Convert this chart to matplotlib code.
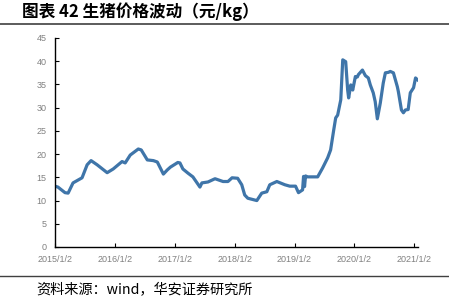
import matplotlib
matplotlib.use("Agg")
import matplotlib.pyplot as plt
import pandas as pd

plt.rcParams['font.family'] = ['Noto Sans CJK SC', 'DejaVu Sans']

dates = [
    "2015-01-02", "2015-01-20", "2015-03-04", "2015-03-23", "2015-04-22", "2015-06-16",
    "2015-07-17", "2015-08-10", "2015-09-16", "2015-11-16", "2015-12-23", "2016-02-15",
    "2016-03-05", "2016-04-05", "2016-05-24", "2016-06-11", "2016-07-18", "2016-08-24",
    "2016-09-17", "2016-10-24", "2016-11-17", "2016-12-06", "2017-01-20", "2017-02-02",
    "2017-02-20", "2017-03-23", "2017-04-22", "2017-06-04", "2017-06-16", "2017-07-23",
    "2017-09-04", "2017-10-23", "2017-11-22", "2017-12-17", "2018-01-20", "2018-02-14",
    "2018-03-04", "2018-03-23", "2018-05-17", "2018-06-16", "2018-07-17", "2018-08-04",
    "2018-09-16", "2018-11-04", "2018-12-04", "2019-01-08", "2019-01-26", "2019-02-20",
    "2019-02-26", "2019-03-04", "2019-03-10", "2019-03-23", "2019-04-22", "2019-05-23",
    "2019-06-22", "2019-07-23", "2019-08-10", "2019-08-29", "2019-09-10", "2019-09-22",
    "2019-10-11", "2019-10-23", "2019-11-10", "2019-11-22", "2019-11-28", "2019-12-11",
    "2019-12-23", "2020-01-08", "2020-01-20", "2020-01-26", "2020-02-20", "2020-03-09",
    "2020-03-27", "2020-04-08", "2020-04-26", "2020-05-08", "2020-05-21", "2020-06-08",
    "2020-06-26", "2020-07-09", "2020-07-27", "2020-08-08", "2020-08-27", "2020-09-20",
    "2020-09-26", "2020-10-15", "2020-10-27", "2020-11-08", "2020-11-25", "2020-12-08",
    "2020-12-28", "2021-01-09", "2021-01-21",
]
prices = [
    13.1, 12.9, 11.7, 11.6, 13.8, 14.9,
    17.7, 18.6, 17.7, 16.0, 16.8, 18.4,
    18.1, 19.8, 21.1, 20.9, 18.75, 18.6,
    18.3, 15.7, 16.6, 17.2, 18.2, 18.1,
    16.8, 15.9, 15.1, 12.9, 13.8, 14.0,
    14.7, 14.1, 14.1, 14.9, 14.8, 13.4,
    11.2, 10.5, 10.0, 11.6, 11.9, 13.4,
    14.1, 13.4, 13.1, 13.1, 11.7, 12.3,
    15.2, 13.0, 15.3, 15.1, 15.1, 15.1,
    17.0, 19.2, 20.9, 25.2, 27.8, 28.4,
    31.7, 40.3, 39.9, 33.8, 32.1, 34.9,
    33.8, 36.7, 36.6, 37.1, 38.1, 36.9,
    36.4, 34.9, 33.2, 31.3, 27.6, 31.0,
    35.3, 37.5, 37.6, 37.8, 37.5, 34.5,
    33.5, 29.5, 28.9, 29.5, 29.6, 33.2,
    34.3, 36.4, 36.0,
]
xtick_labels = ["2015/1/2", "2016/1/2", "2017/1/2", "2018/1/2",
                "2019/1/2", "2020/1/2", "2021/1/2"]
yticks = list(range(0, 50, 5))

x = pd.to_datetime(dates)
xt = pd.to_datetime(xtick_labels, format="%Y/%m/%d")

fig = plt.figure(figsize=(4.49, 3.02), dpi=100)
ax = fig.add_axes([55/449, 1-247/302, (418-55)/449, (247-38)/302])
ax.plot(x, prices, color='#3F75A9', lw=2.3, solid_joinstyle='round')

ax.set_ylim(0, 45)
ax.set_yticks(yticks)
ax.set_xlim(xt[0], pd.Timestamp("2021-01-24"))
ax.set_xticks(xt)
ax.set_xticklabels(xtick_labels)
for s in ['top', 'right']:
    ax.spines[s].set_visible(False)
for s in ['left', 'bottom']:
    ax.spines[s].set_color('#000000')
    ax.spines[s].set_linewidth(1.0)
ax.tick_params(axis='both', direction='in', length=3, width=0.8, color='#000000',
               labelsize=6.5, labelcolor='#808080', pad=6)
for lab in ax.get_xticklabels() + ax.get_yticklabels():
    lab.set_family(['Liberation Sans', 'DejaVu Sans'])

fig.text(22/449, 1-12/302, "图表 42 生猪价格波动（元/kg）", fontsize=12, fontweight='bold',
         va='center', ha='left', color='#000000')
fig.add_artist(plt.Line2D([0, 1], [1-23.5/302, 1-23.5/302], color='#404040', lw=1.2))
fig.add_artist(plt.Line2D([0, 1], [1-276/302, 1-276/302], color='#404040', lw=1.0))
fig.text(36/449, 1-290/302, "资料来源：wind，华安证券研究所", fontsize=10.2,
         va='center', ha='left', color='#000000')

fig.savefig("out.png", dpi=100)
